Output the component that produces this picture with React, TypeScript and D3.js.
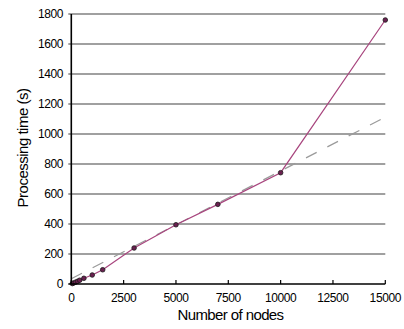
import React from "react";
import * as d3 from "d3";

const nodes = [50, 100, 200, 300, 400, 600, 1000, 1500, 3000, 5000, 7000, 10000, 15000];
const times = [3, 6, 12, 18, 25, 38, 60, 95, 240, 395, 531, 742, 1760];
const trendStart = [0, 35];
const trendEnd = [15000, 1113];
const xTicks = [0, 2500, 5000, 7500, 10000, 12500, 15000];
const yTicks = [0, 200, 400, 600, 800, 1000, 1200, 1400, 1600, 1800];

export default function App() {
  const W = 404, H = 329;
  const x = d3.scaleLinear().domain([0, 15000]).range([71.3, 385.3]);
  const y = d3.scaleLinear().domain([0, 1800]).range([284, 14]);
  const line = d3.line<number>().x((_, i) => x(nodes[i])).y((d) => y(d));
  const font = "'Liberation Sans', Arial, sans-serif";
  return (
    <svg width={W} height={H} style={{ position: "absolute", left: 0, top: 0 }} fontFamily={font}>
      <rect width={W} height={H} fill="#fff" />
      {yTicks.filter((t) => t > 0).map((t) => (
        <line key={t} x1={x(0) - 3} x2={x(15000)} y1={y(t)} y2={y(t)} stroke="#808080" strokeWidth={1.6} />
      ))}
      <line
        x1={x(trendStart[0])} y1={y(trendStart[1])} x2={x(trendEnd[0])} y2={y(trendEnd[1])}
        stroke="#9a9a9a" strokeWidth={1.2} strokeDasharray="12,12"
      />
      <path d={line(times) || ""} fill="none" stroke="#a8457e" strokeWidth={1.2} />
      {times.map((t, i) => (
        <circle key={i} cx={x(nodes[i])} cy={y(t)} r={2.3} fill="#6a2050" stroke="#1a1a1a" strokeWidth={0.8} />
      ))}
      <line x1={x(0)} x2={x(0)} y1={y(1800)} y2={y(0)} stroke="#000" strokeWidth={1.6} />
      <line x1={x(0) - 3} x2={x(15000)} y1={y(0)} y2={y(0)} stroke="#000" strokeWidth={1.6} />
      {xTicks.map((t) => (
        <line key={t} x1={x(t)} x2={x(t)} y1={y(0)} y2={y(0) - 4} stroke="#000" strokeWidth={1.2} />
      ))}
      {yTicks.map((t) => (
        <text key={t} x={63} y={y(t)} dy="0.36em" textAnchor="end" fontSize={12} letterSpacing={-0.4} fill="#000">
          {t}
        </text>
      ))}
      {xTicks.map((t) => (
        <text key={t} x={x(t)} y={302} textAnchor="middle" fontSize={12} letterSpacing={-0.4} fill="#000">
          {t}
        </text>
      ))}
      <text x={230.5} y={320} textAnchor="middle" fontSize={15} letterSpacing={-0.6} fill="#000">
        Number of nodes
      </text>
      <text
        transform={`translate(28,148) rotate(-90)`}
        textAnchor="middle" fontSize={15} letterSpacing={-0.5} fill="#000"
      >
        Processing time (s)
      </text>
    </svg>
  );
}
